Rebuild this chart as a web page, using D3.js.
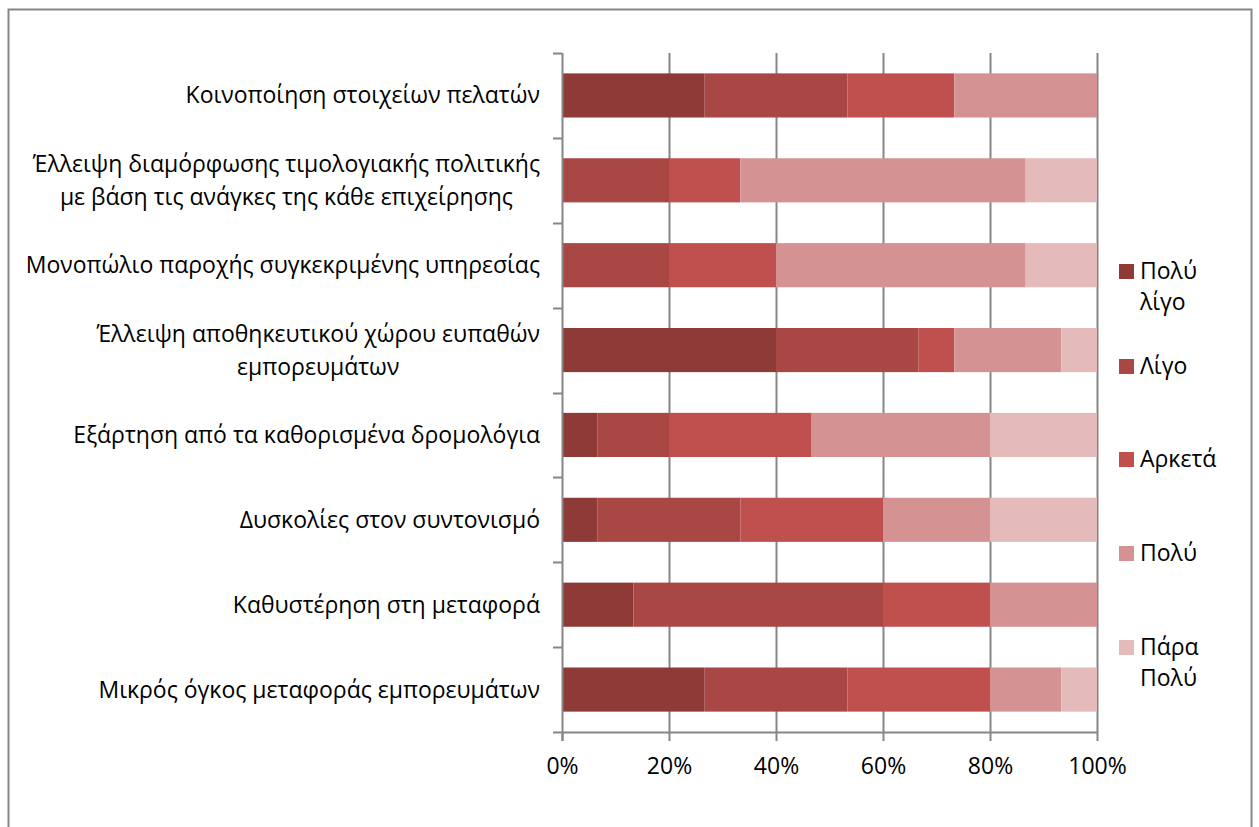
<!DOCTYPE html>
<html>
<head>
<meta charset="utf-8">
<script src="https://cdn.jsdelivr.net/npm/d3@7"></script>
<style>
  body { margin: 0; background: #fff; }
  text { font-family: "Open Sans", "Noto Sans", sans-serif; fill: #000; }
</style>
</head>
<body>
<script>
(function() {
    'use strict';

    // categories, top to bottom; '\n' marks line breaks as in the chart
    var categories = [
        'Κοινοποίηση στοιχείων πελατών',
        'Έλλειψη διαμόρφωσης τιμολογιακής πολιτικής\nμε βάση τις ανάγκες της κάθε επιχείρησης',
        'Μονοπώλιο παροχής συγκεκριμένης υπηρεσίας',
        'Έλλειψη αποθηκευτικού χώρου ευπαθών\nεμπορευμάτων',
        'Εξάρτηση από τα καθορισμένα δρομολόγια',
        'Δυσκολίες στον συντονισμό',
        'Καθυστέρηση στη μεταφορά',
        'Μικρός όγκος μεταφοράς εμπορευμάτων'
    ];

    var seriesNames = ['Πολύ λίγο', 'Λίγο', 'Αρκετά', 'Πολύ', 'Πάρα Πολύ'];
    var legendLines = [['Πολύ', 'λίγο'], ['Λίγο'], ['Αρκετά'], ['Πολύ'], ['Πάρα', 'Πολύ']];
    var seriesColors = ['#8e3a37', '#a94745', '#c0504e', '#d49392', '#e4baba'];

    // responses per category (shares of 15 answers)
    var polyLigo  = [4, 0, 0, 6, 1, 1, 2, 4];
    var ligo      = [4, 3, 3, 4, 2, 4, 7, 4];
    var arketa    = [3, 2, 3, 1, 4, 4, 3, 4];
    var poly      = [4, 8, 7, 3, 5, 3, 3, 2];
    var paraPoly  = [0, 2, 2, 1, 3, 3, 0, 1];

    var xTicks = [0, 0.2, 0.4, 0.6, 0.8, 1];

    var width = 1259, height = 827;
    var fontSize = '23px';

    var table = categories.map(function(c, i) {
        return {
            cat: c,
            'Πολύ λίγο': polyLigo[i],
            'Λίγο': ligo[i],
            'Αρκετά': arketa[i],
            'Πολύ': poly[i],
            'Πάρα Πολύ': paraPoly[i]
        };
    });

    var stacked = d3.stack()
        .keys(seriesNames)
        .offset(d3.stackOffsetExpand)(table);

    var svg = d3.select('body').append('svg')
        .attr('width', width)
        .attr('height', height);

    svg.append('rect')
        .attr('x', 8.5).attr('y', 9.5)
        .attr('width', 1243).attr('height', 830)
        .attr('fill', '#fff')
        .attr('stroke', '#868686')
        .attr('stroke-width', 2);

    var x = d3.scaleLinear()
        .domain([0, 1])
        .range([562, 1097]);

    var y = d3.scaleBand()
        .domain(categories)
        .range([53, 732])
        .paddingInner(0.48)
        .paddingOuter(0.24);

    // vertical gridlines
    svg.append('g')
        .selectAll('line')
        .data(xTicks.slice(1))
        .join('line')
        .attr('x1', function(d) { return Math.round(x(d)) + 0.5; })
        .attr('x2', function(d) { return Math.round(x(d)) + 0.5; })
        .attr('y1', 53)
        .attr('y2', 732)
        .attr('stroke', '#868686')
        .attr('stroke-width', 2);

    // bars
    svg.append('g')
        .selectAll('g')
        .data(stacked)
        .join('g')
        .attr('fill', function(d, i) { return seriesColors[i]; })
        .selectAll('rect')
        .data(function(d) { return d; })
        .join('rect')
        .attr('x', function(d) { return x(d[0]); })
        .attr('width', function(d) { return x(d[1]) - x(d[0]); })
        .attr('y', function(d) { return y(d.data.cat); })
        .attr('height', y.bandwidth());

    // x axis
    var xAxis = svg.append('g')
        .attr('transform', 'translate(0,732)')
        .call(d3.axisBottom(x)
            .tickValues(xTicks)
            .tickFormat(d3.format('.0%'))
            .tickSize(9)
            .tickSizeOuter(0)
            .tickPadding(17));
    xAxis.select('.domain').attr('stroke', '#868686').attr('stroke-width', 2)
        .attr('d', 'M553,0.5H1098');
    xAxis.selectAll('.tick line').attr('stroke', '#868686').attr('stroke-width', 2);
    xAxis.selectAll('.tick text')
        .style('font-family', '"Open Sans", "Noto Sans", sans-serif')
        .style('font-size', fontSize)
        .attr('fill', '#000');

    // y axis (category boundaries as ticks)
    var bounds = d3.range(categories.length).map(function(i) { return 53 + i * (679 / categories.length); });
    var yAxisG = svg.append('g');
    yAxisG.append('line')
        .attr('x1', 562.5).attr('x2', 562.5)
        .attr('y1', 53).attr('y2', 741)
        .attr('stroke', '#868686').attr('stroke-width', 2);
    yAxisG.selectAll('line.tick')
        .data(bounds)
        .join('line')
        .attr('class', 'tick')
        .attr('x1', 553).attr('x2', 562)
        .attr('y1', function(d) { return Math.round(d) + 0.5; })
        .attr('y2', function(d) { return Math.round(d) + 0.5; })
        .attr('stroke', '#868686').attr('stroke-width', 2);

    // category labels
    var lineH = 33;
    var labels = svg.append('g')
        .selectAll('g')
        .data(categories)
        .join('g');
    labels.each(function(c) {
        var g = d3.select(this);
        var lines = c.split('\n');
        var cy = y(c) + y.bandwidth() / 2;
        var t = g.selectAll('text')
            .data(lines)
            .join('text')
            .attr('text-anchor', 'middle')
            .attr('dy', '0.35em')
            .attr('y', function(d, i) { return cy + (i - (lines.length - 1) / 2) * lineH; })
            .style('font-size', fontSize)
            .text(function(d) { return d; });
        var maxW = d3.max(t.nodes(), function(n) { return n.getComputedTextLength(); });
        t.attr('x', 540 - maxW / 2);
    });

    // legend
    var legendY = [271, 366, 459, 553, 647];
    var legend = svg.append('g')
        .selectAll('g')
        .data(seriesNames)
        .join('g')
        .attr('transform', function(d, i) { return 'translate(1119,' + legendY[i] + ')'; });
    legend.append('rect')
        .attr('x', 0).attr('y', -7)
        .attr('width', 15).attr('height', 15)
        .attr('fill', function(d, i) { return seriesColors[i]; });
    legend.each(function(d, i) {
        d3.select(this).selectAll('text')
            .data(legendLines[i])
            .join('text')
            .attr('x', 21)
            .attr('y', function(l, j) { return j * 31; })
            .attr('dy', '0.35em')
            .style('font-size', fontSize)
            .text(function(l) { return l; });
    });
}());
</script>
</body>
</html>
